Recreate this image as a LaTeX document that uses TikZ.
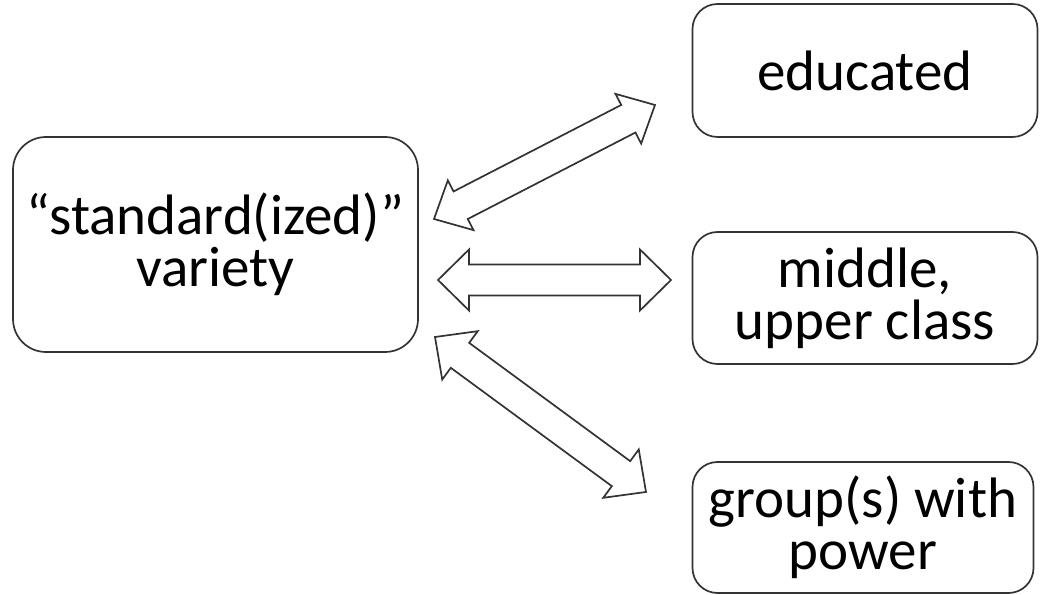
\documentclass[tikz,border=0pt]{standalone}
\usepackage{fontspec}
\setmainfont{Carlito}
\definecolor{edge}{RGB}{51,51,51}
\newcommand\blockarrow[6]{% x, y, angle, length, head half-width, head length
  \draw[blockarr, shift={(#1,#2)}, rotate=#3]
    (0,0) -- (#6,#5) -- (#6,15.5) -- (#4-#6,15.5) -- (#4-#6,#5) -- (#4,0)
    -- (#4-#6,-#5) -- (#4-#6,-15.5) -- (#6,-15.5) -- (#6,-#5) -- cycle;}
\begin{document}
\begin{tikzpicture}[x=1pt,y=1pt,
  box/.style={draw=edge, line width=1.7pt, rectangle, align=center,
    inner sep=0pt, font=\fontsize{57}{52}\selectfont},
  blockarr/.style={draw=edge, line width=1.7pt, fill=white, line join=miter}]
\useasboundingbox (0,0) rectangle (1040,594);

\node[box, minimum width=405, minimum height=215, rounded corners=33pt]
  (std) at (215.5,349.5) {“standard(ized)”\\variety};
\node[box, minimum width=345, minimum height=133, rounded corners=25pt]
  (edu) at (865,523.5) {educated};
\node[box, minimum width=345, minimum height=132, rounded corners=25pt]
  (mid) at (865,296) {middle,\\upper class};
\node[box, minimum width=341, minimum height=131, rounded corners=25pt]
  (pow) at (863,66.5) {group(s) with\\power};

% two-headed block arrows between the variety and the groups
\blockarrow{434}{375}{27.29}{248.67}{28}{30}
\blockarrow{438}{314}{0}{233}{30.5}{31}
\blockarrow{435}{257}{-36.3}{261.8}{30}{31}
\end{tikzpicture}
\end{document}
